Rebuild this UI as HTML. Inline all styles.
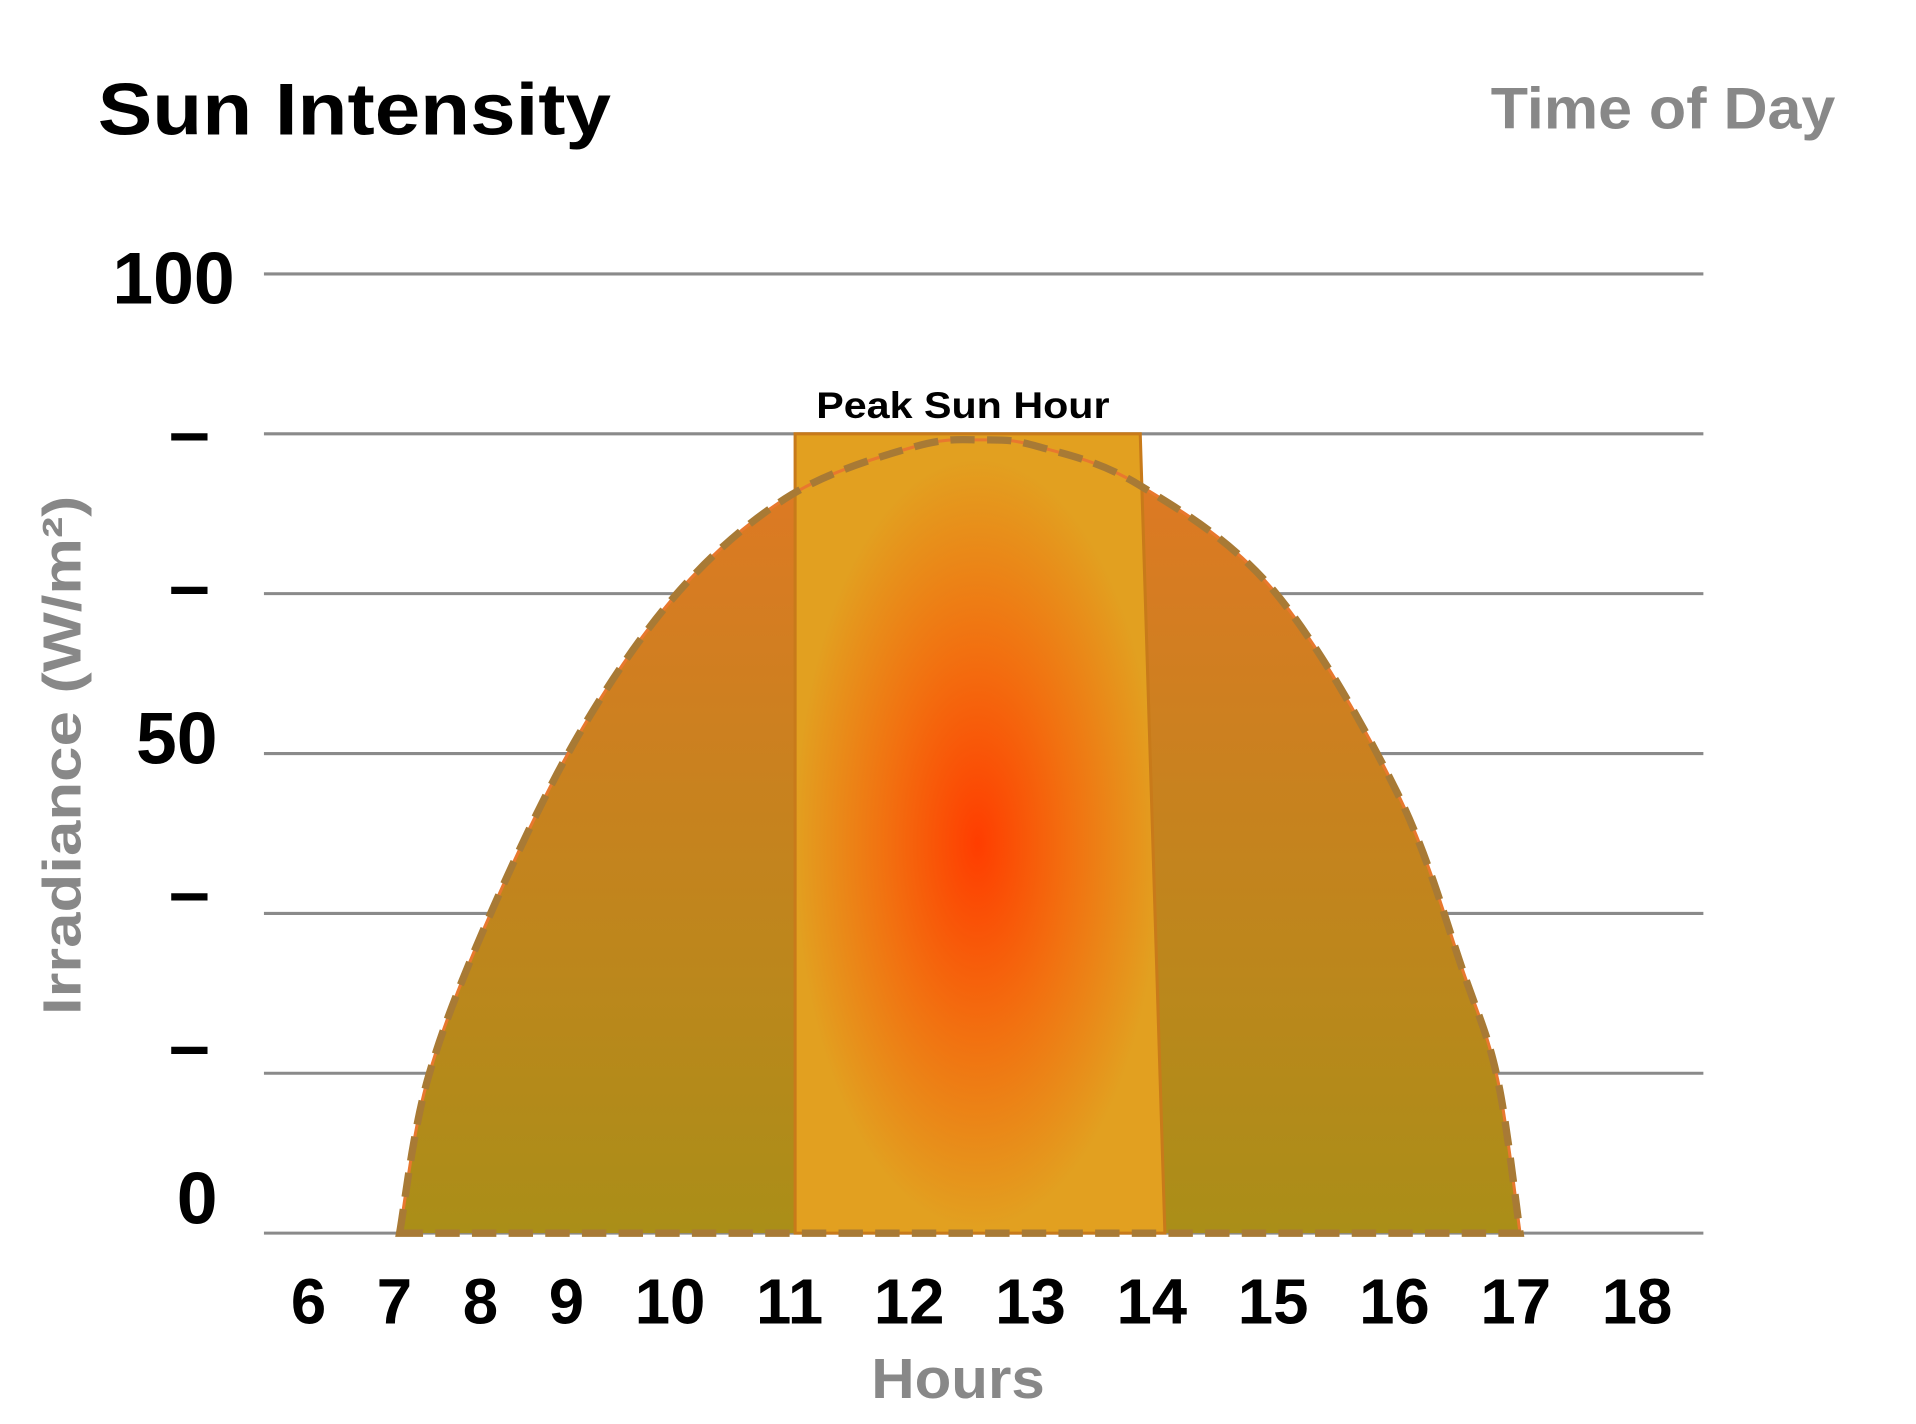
<!DOCTYPE html>
<html><head><meta charset="utf-8"><style>
html,body{margin:0;padding:0;background:#fff;}
svg{display:block;font-family:"Liberation Sans",Arial,sans-serif;}
</style></head><body>
<svg id="chart" width="1916" height="1424" viewBox="0 0 1568 1165" xmlns="http://www.w3.org/2000/svg">
<defs>
<linearGradient id="areaGrad" x1="0" y1="0" x2="0" y2="1">
<stop offset="0" stop-color="#e07824"/><stop offset="1" stop-color="#aa8e18"/>
</linearGradient>
<radialGradient id="bandGrad" gradientUnits="userSpaceOnUse" cx="800" cy="690" r="150" gradientTransform="translate(800 690) scale(1 2.1) translate(-800 -690)">
<stop offset="0" stop-color="#ff3d00"/><stop offset="0.5" stop-color="#f27010"/><stop offset="1" stop-color="#e2a020"/>
</radialGradient>
</defs>
<text x="80" y="110" font-size="60" font-weight="bold" fill="#000" textLength="420" lengthAdjust="spacingAndGlyphs">Sun Intensity</text>
<text x="1220" y="105" font-size="48" font-weight="bold" fill="#888" textLength="282" lengthAdjust="spacingAndGlyphs">Time of Day</text>
<text transform="translate(66,618) rotate(-90)" font-size="44" font-weight="bold" fill="#888" text-anchor="middle" textLength="425" lengthAdjust="spacingAndGlyphs">Irradiance (W/m²)</text>
<text x="713" y="1144" font-size="46" font-weight="bold" fill="#888" textLength="142" lengthAdjust="spacingAndGlyphs">Hours</text>
<g id="grid"></g><g id="marks"></g><g id="labels"></g>
</svg>
<script>
const hours = [7, 7.25, 7.8, 8.6, 9.5, 10.5, 11.6, 12.2, 12.7, 13.6, 14.8, 15.9, 16.5, 16.8, 17];
const irradiance = [0, 16, 33, 52, 67, 77, 82, 82.7, 82, 78, 67, 46, 27, 16, 0];
const xTicks = [6, 7, 8, 9, 10, 11, 12, 13, 14, 15, 16, 17, 18];
const yTicks = [0, 16.67, 33.33, 50, 66.67, 83.33, 100];
const yTickLabels = ["0", "–", "–", "50", "–", "–", "100"];
const peakBand = [10.53, 13.61, 13.83, 83.33];
const peakLabel = "Peak Sun Hour";

const NS = "http://www.w3.org/2000/svg";
const X0 = 216, X1 = 1394, Y0 = 1009, Y1 = 224;
function x(h){ return 327 + (h - 7) * (1244 - 327) / 10; }
function y(v){ return Y0 - (v / 100) * (Y0 - Y1); }
function mk(tag, attrs, parent){ const e = document.createElementNS(NS, tag); for (const k in attrs) e.setAttribute(k, attrs[k]); parent.appendChild(e); return e; }
const grid = document.getElementById('grid'), marks = document.getElementById('marks'), labels = document.getElementById('labels');

yTicks.forEach((v, i) => {
  const l = mk('line', {x1: X0, x2: X1, y1: y(v), y2: y(v), stroke: '#8a8a8a', 'stroke-width': 2.5}, grid);
  
  
  const cy = 980 - i * 125.5;
  const lab = yTickLabels[i];
  const isDash = lab === "–";
  const t = mk('text', {x: isDash ? 155 : (lab.length > 2 ? 192 : 178), y: cy + 21, 'font-size': 60, 'font-weight': 'bold', fill: '#000', 'text-anchor': isDash ? 'middle' : 'end'}, labels);
  t.textContent = lab;
  
  
});

// x tick labels rendered as one spaced run (as in reference)
const xt = mk('text', {x: 238, y: 1083, 'font-size': 52, 'font-weight': 'bold', fill: '#000', 'word-spacing': 27}, labels);
xt.setAttribute('xml:space', 'preserve');
xt.textContent = xTicks.join(' ');



const pts = hours.map((h, i) => [x(h), y(irradiance[i])]);
let d = `M${pts[0][0]},${pts[0][1]}`;
for (let i = 0; i < pts.length - 1; i++) {
  const p0 = pts[Math.max(0, i - 1)], p1 = pts[i], p2 = pts[i + 1], p3 = pts[Math.min(pts.length - 1, i + 2)];
  const c1 = [p1[0] + (p2[0] - p0[0]) / 6, p1[1] + (p2[1] - p0[1]) / 6];
  const c2 = [p2[0] - (p3[0] - p1[0]) / 6, p2[1] - (p3[1] - p1[1]) / 6];
  d += ` C${c1[0]},${c1[1]} ${c2[0]},${c2[1]} ${p2[0]},${p2[1]}`;
}
const area = mk('path', {d: d + ' Z', fill: 'url(#areaGrad)'}, marks);



const band = mk('polygon', {points: `${x(peakBand[0])},${y(peakBand[3])} ${x(peakBand[1])},${y(peakBand[3])} ${x(peakBand[2])},${y(0)} ${x(peakBand[0])},${y(0)}`, fill: 'url(#bandGrad)', stroke: '#c87a1a', 'stroke-width': 2.5}, marks);



const thin = mk('path', {d: d, fill: 'none', stroke: '#e8782e', 'stroke-width': 2.5}, marks);


const dashed = mk('path', {d: d + ' Z', fill: 'none', stroke: '#a87a35', 'stroke-width': 6, 'stroke-dasharray': '20 10'}, marks);



const pl = mk('text', {x: 668, y: 342, 'font-size': 30, 'font-weight': 'bold', fill: '#000', textLength: 240, lengthAdjust: 'spacingAndGlyphs'}, labels);
pl.textContent = peakLabel;


</script>
</body></html>
